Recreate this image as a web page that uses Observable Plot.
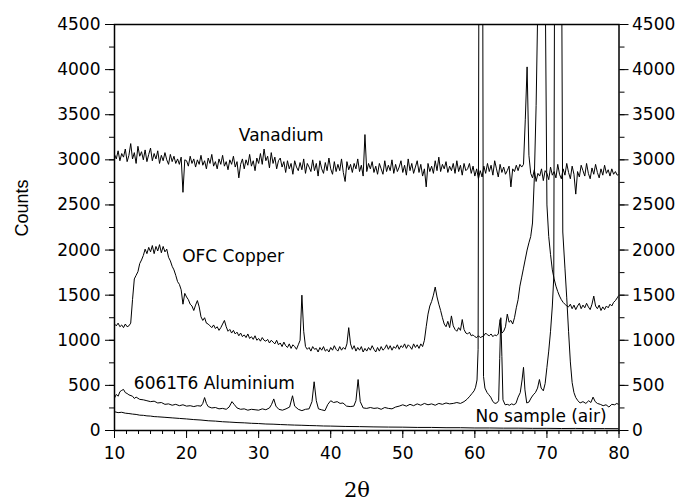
<!DOCTYPE html>
<html><head><meta charset="utf-8">
<script src="https://cdn.jsdelivr.net/npm/d3@7"></script>
<script src="https://cdn.jsdelivr.net/npm/@observablehq/plot@0.6"></script>
<style>body{margin:0;background:#fff}</style>
</head><body><div id="chart"></div>
<script>
// x grid for the evenly sampled series
const gridStart = 10, gridStep = 0.25;

// Vanadium counts, 10 → 80 step 0.25
const vanadium = [
3060,3010,3100,2990, 3070,3030,3120,2980, 3050,3180,3010,3080, 2960,3150,3040,3090,
3000,3110,2980,3060, 3130,2990,3070,3010, 3100,2960,3050,2990, 3080,3000,2950,3060,
2980,3040,2960,3010, 2950,3030,2640,3000, 2990,2930,3040,2960, 3010,2920,3000,2950,
3050,2940,2990,2900, 3020,2960,3060,2930, 2980,2900,3010,2950, 3050,2930,2980,2890,
3000,2950,3040,2920, 2980,2800,2950,3010, 2900,3000,2940,3060, 2930,2990,2880,3020,
2960,3070,2950,3120, 2990,3040,2910,3080, 2960,3030,2900,2990, 3020,2920,2980,2860,
2990,2900,2960,2840, 2990,2920,2880,2970, 2890,3010,2850,2960, 2920,2870,3000,2880,
2960,2820,2990,2900, 2850,2970,2880,3020, 2900,2840,2980,2870, 2950,2880,3010,2860,
2760,2980,2890,2950, 2860,2960,2900,3010, 2870,2940,2820,3280, 2870,2960,2900,2980,
2860,2930,2840,2960, 2900,2840,2990,2870, 2940,2880,3000,2850, 2950,2870,2920,2990,
2860,2940,2830,3010, 2880,2960,2850,2920, 2990,2860,2950,2820, 2900,2700,2960,2870,
2930,2850,2990,2880, 3030,2870,2950,2900, 2980,2860,2930,2880, 2960,2850,2990,2870,
2940,2830,2960,2880, 2900,2960,2850,2930, 2820,2900,2790,2880, 2810,2930,2850,2960,
2870,2940,2830,2990, 2900,2810,2950,2860, 2920,2840,2880,2930, 2700,2900,2870,2940,
2880,2950,2920,2950, 3450,4030,3050,2850, 2800,2890,2760,2850, 2820,2900,2770,2880,
2850,2780,2920,2830, 2870,2800,2950,2840, 2790,2900,2830,2960, 2860,2790,2930,2840,
2620,2870,2810,2940, 2880,2820,2960,2850, 2790,2910,2840,2950, 2860,2800,2900,2830,
2940,2850,2890,2820, 2900,2840,2870,2830, 2840
];

// OFC Copper counts, 10 → 80 step 0.25
const copper = [
1180,1160,1190,1150, 1170,1140,1180,1150, 1160,1190,1450,1680, 1720,1760,1850,1890,
1940,2010,1960,2030, 1980,2050,1960,2040, 1990,2060,1970,2040, 1980,2010,1920,1880,
1820,1780,1720,1650, 1620,1560,1400,1520, 1480,1450,1400,1380, 1330,1390,1440,1370,
1260,1220,1250,1190, 1180,1160,1140,1170, 1130,1150,1110,1140, 1180,1220,1150,1100,
1120,1080,1110,1070, 1090,1050,1080,1040, 1060,1030,1070,1020, 1040,1010,1050,1000,
1020,990,1030,1000, 990,1010,970,1000, 980,960,1000,950, 970,930,980,940,
920,960,910,950, 930,900,950,1000, 1500,1100,930,900, 920,880,930,900,
910,870,920,890, 930,880,900,870, 920,890,940,900, 880,930,890,920,
900,960,1140,960, 900,940,880,920, 890,930,870,910, 880,920,890,940,
900,870,920,880, 930,890,910,950, 900,940,890,930, 910,950,900,940,
920,960,910,950, 930,900,960,920, 950,910,960,930, 1000,1150,1290,1380,
1430,1500,1590,1480, 1400,1330,1250,1180, 1150,1210,1140,1270, 1160,1120,1100,1140,
1110,1230,1120,1080, 1070,1090,1050,1060, 1040,1030,1050,1030, 1040,1050,1080,1060,
1050,1070,1040,1060, 1050,1070,1230,1080, 1100,1150,1290,1200, 1220,1180,1250,1360,
1450,1600,1700,1800, 1900,2000,2080,2150, 2300,2800,3600,4800, 5500,5800,5700,5100,
2500,2150,1950,1780, 1680,1600,1540,1490, 1450,1420,1400,1380, 1370,1400,1350,1390,
1340,1380,1410,1350, 1390,1360,1410,1370, 1340,1400,1490,1380, 1350,1390,1330,1370,
1340,1380,1360,1400, 1380,1420,1440,1470, 1500
];

// 6061T6 Aluminium [2θ, counts]
const aluminium = [
[10,360],[10.25,400],[10.5,380],[10.75,430],[11,445],[11.25,455],[11.5,420],[11.75,410],[12,395],[12.5,380],
[12.75,355],[13,370],[13.5,345],[14,340],[14.5,330],[15,320],[15.5,325],[16,305],[16.5,310],[17,290],
[17.5,295],[18,280],[18.5,290],[19,275],[19.5,285],[20,270],[20.5,275],[21,265],[21.5,275],[22,270],
[22.25,300],[22.5,365],[22.75,300],[23,265],[23.5,250],[24,255],[24.5,240],[25,245],[25.5,235],[25.9,260],
[26.3,320],[26.6,290],[27,250],[27.5,235],[28,240],[28.5,225],[29,235],[29.5,230],[30,225],[30.5,240],
[31,230],[31.5,250],[31.8,290],[32.1,350],[32.4,270],[32.8,235],[33.3,225],[33.8,240],[34.3,260],[34.7,385],
[35,270],[35.5,235],[36,220],[36.5,235],[37,240],[37.4,320],[37.7,540],[38,330],[38.3,240],[38.7,230],
[39.2,220],[39.6,290],[40,330],[40.4,310],[40.9,320],[41.3,300],[41.7,305],[42.2,270],[42.7,265],[43.2,270],
[43.5,330],[43.8,565],[44.1,320],[44.5,250],[45,245],[45.5,255],[46,245],[46.5,250],[47,235],[47.5,255],
[48,245],[48.5,240],[49,260],[49.5,270],[50,285],[50.5,270],[51,290],[51.5,275],[52,295],[52.5,280],
[53,300],[53.5,285],[54,295],[54.5,280],[55,300],[55.5,290],[56,305],[56.5,295],[57,300],[57.5,310],
[58,300],[58.5,320],[58.9,345],[59.3,380],[59.6,410],[59.9,440],[60.1,480],[60.3,560],[60.45,900],[60.55,4700],
[60.8,9000],[61.1,4700],[61.2,600],[61.4,470],[61.7,420],[61.9,400],[62.2,370],[62.5,320],[62.8,300],[63.05,305],
[63.3,330],[63.45,800],[63.6,1250],[63.75,820],[63.9,340],[64.2,285],[64.5,290],[64.8,280],[65.1,295],[65.4,285],
[65.7,300],[66,370],[66.3,420],[66.55,560],[66.75,700],[66.95,450],[67.2,305],[67.5,315],[67.8,360],[68.1,395],
[68.4,420],[68.7,470],[68.96,565],[69.2,470],[69.5,440],[69.75,520],[70,700],[70.25,880],[70.5,1100],[70.75,1380],
[70.95,1700],[71.05,4800],[71.3,9000],[71.6,9500],[71.85,9000],[72.06,4800],[72.2,2200],[72.5,1800],[72.75,1470],[73,1100],
[73.25,760],[73.5,530],[73.75,420],[74,365],[74.3,330],[74.6,305],[75,320],[75.4,300],[75.8,330],[76.1,310],
[76.4,370],[76.7,320],[77,300],[77.4,290],[77.8,275],[78.2,285],[78.6,260],[79,290],[79.4,285],[79.7,300],[80,285]
];

// No sample (air) [2θ, counts]
const air = [
[10,208],[10.5,198],[11,202],[11.5,192],[12,188],[12.5,182],[13,178],[13.5,170],[14,168],[14.5,162],
[15,160],[15.5,154],[16,152],[17,146],[18,140],[19,134],[20,128],[21,121],[22,116],[23,108],
[24,104],[25,97],[26,93],[27,88],[28,85],[29,80],[30,77],[31,72],[32,70],[33,66],
[34,63],[35,60],[36,58],[37,55],[38,53],[39,50],[40,49],[42,45],[44,43],[46,40],
[48,38],[50,37],[52,34],[54,34],[56,31],[58,31],[60,28],[62,28],[64,26],[66,26],
[68,24],[70,24],[72,22],[74,23],[76,21],[78,21],[80,20]
];

const yTicks = [0,500,1000,1500,2000,2500,3000,3500,4000,4500];
const xTicks = [10,20,30,40,50,60,70,80];
const seriesNames = ["Vanadium","OFC Copper","6061T6 Aluminium","No sample (air)"];

const grid = arr => arr.map((v, i) => ({x: gridStart + i * gridStep, y: v}));
const pairs = arr => arr.map(([x, y]) => ({x, y}));
const yMinor = d3.range(0, 4501, 250);
const xMinor = d3.range(0, 43).map(i => 10 + i * 10 / 6);
const plain = d => String(d);

const lineOpts = {x: "x", y: "y", stroke: "black", strokeWidth: 1, clip: true};

const chart = Plot.plot({
  width: 681, height: 501,
  marginLeft: 114, marginRight: 62.5, marginTop: 24, marginBottom: 71,
  x: {domain: [10, 80], label: null},
  y: {domain: [0, 4500], label: null},
  style: {fontFamily: "DejaVu Sans", fontSize: "17px", color: "black", background: "white"},
  marks: [
    Plot.line(pairs(air), lineOpts),
    Plot.line(pairs(aluminium), lineOpts),
    Plot.line(grid(copper), lineOpts),
    Plot.line(grid(vanadium), lineOpts),
    Plot.axisY(yTicks, {anchor: "left", tickSize: 9, tickPadding: 5, tickFormat: plain, label: null}),
    Plot.axisY(yMinor, {anchor: "left", tickSize: 5, tickFormat: () => "", label: null}),
    Plot.axisY(yTicks, {anchor: "right", tickSize: 9, tickPadding: 4, tickFormat: plain, label: null}),
    Plot.axisY(yMinor, {anchor: "right", tickSize: 5, tickFormat: () => "", label: null}),
    Plot.axisX(xTicks, {anchor: "bottom", tickSize: 8, tickPadding: 8, tickFormat: plain, label: null}),
    Plot.axisX(xMinor, {anchor: "bottom", tickSize: 4, tickFormat: () => "", label: null}),
    Plot.frame({stroke: "black", strokeWidth: 1.5}),
    Plot.text([seriesNames[0]], {x: 27.25, y: 3205, text: d => d, textAnchor: "start", lineAnchor: "bottom", fontSize: 17}),
    Plot.text([seriesNames[1]], {x: 19.39, y: 1870, text: d => d, textAnchor: "start", lineAnchor: "bottom", fontSize: 17}),
    Plot.text([seriesNames[2]], {x: 12.68, y: 457, text: d => d, textAnchor: "start", lineAnchor: "bottom", fontSize: 17}),
    Plot.text([seriesNames[3]], {x: 60.09, y: 94, text: d => d, textAnchor: "start", lineAnchor: "bottom", fontSize: 17})
  ]
});

const svg = d3.select(chart);
svg.append("text")
  .attr("transform", "translate(22,208) rotate(-90)")
  .attr("text-anchor", "middle").attr("dy", "0.35em")
  .style("font-family", "Liberation Sans").style("font-size", "18px")
  .attr("fill", "black").text("Counts");
svg.append("text")
  .attr("x", 357).attr("y", 497)
  .attr("text-anchor", "middle")
  .style("font-family", "DejaVu Serif").style("font-size", "21px")
  .attr("fill", "black").text("2θ");

document.getElementById("chart").appendChild(chart);
</script>
</body></html>
